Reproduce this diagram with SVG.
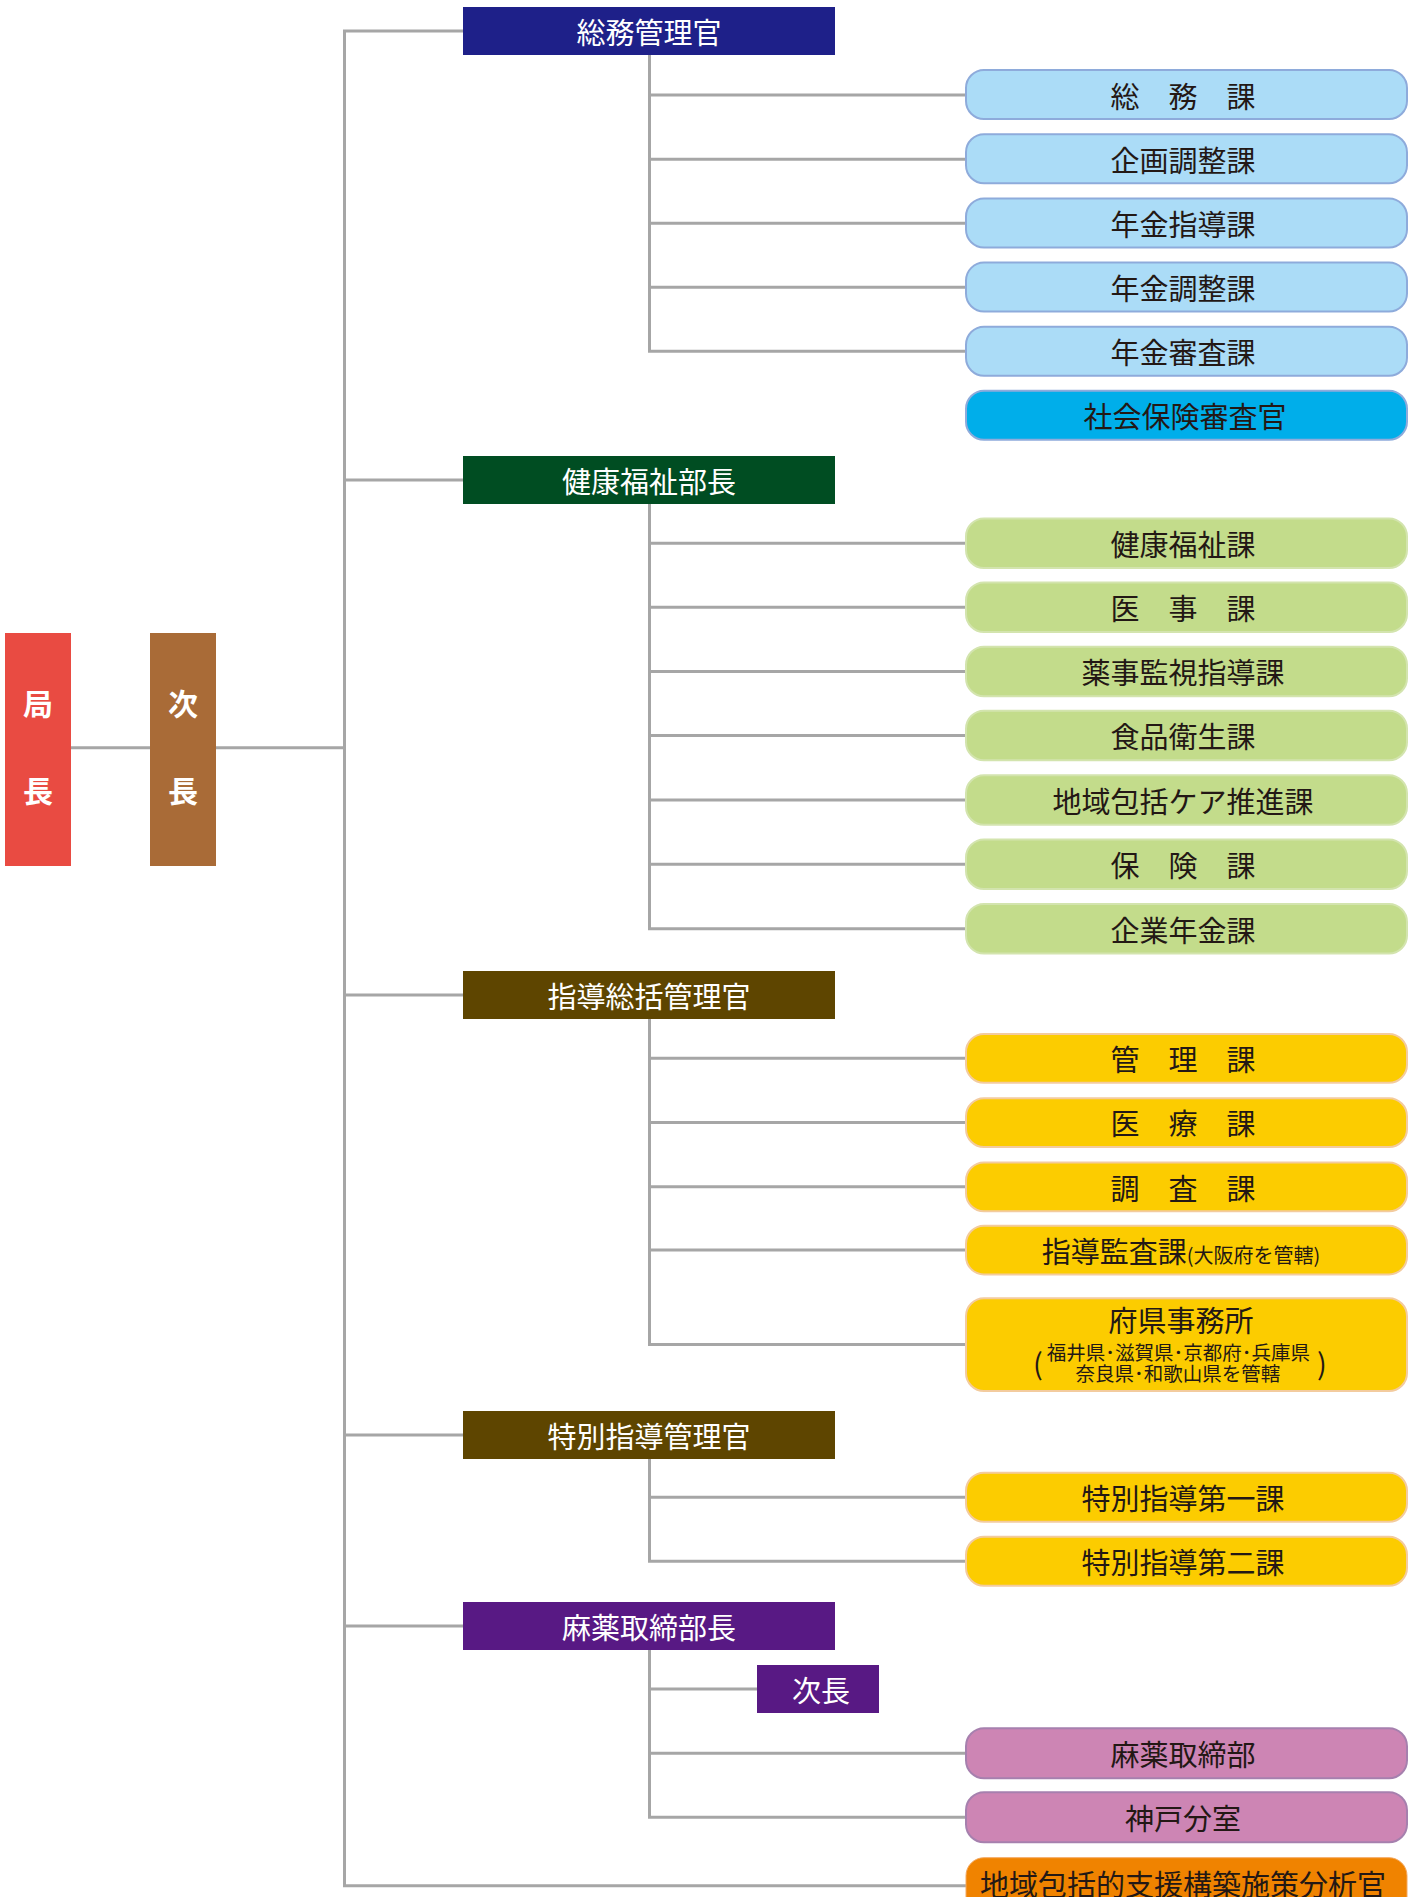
<svg xmlns="http://www.w3.org/2000/svg" width="1417" height="1897" viewBox="0 0 1417 1897">
<style>
.ln{fill:none;stroke:#A6A6A6;stroke-width:3}
text{font-family:"Noto Sans CJK JP","Noto Sans CJK SC",sans-serif}
.hd{font-size:29px;fill:#FFFFFF;text-anchor:middle}
.tp{font-size:30px;fill:#FFFFFF;text-anchor:middle;font-weight:bold}
.bx{font-size:29px;fill:#231815;text-anchor:middle}
.sm{font-size:19.5px;fill:#231815;text-anchor:middle}
.blue{fill:#ABDCF7;stroke:#8EABDB;stroke-width:2}
.cyan{fill:#00AEEA;stroke:#8EABDB;stroke-width:2}
.green{fill:#C3DC8B;stroke:#D3E4AE;stroke-width:2}
.yel{fill:#FCCC00;stroke:#F3CB9E;stroke-width:2}
.pink{fill:#CD85B4;stroke:#A680AE;stroke-width:2}
.orng{fill:#F08300;stroke:#F3A860;stroke-width:1}
</style>
<g id="connectors">
<path class="ln" d="M71 747.7H150M216 747.7H344.5"/>
<path class="ln" d="M463 31H344.5V1885.7H966"/>
<path class="ln" d="M344.5 480H463M344.5 995H463M344.5 1435H463M344.5 1626H463"/>
<path class="ln" d="M649.5 55V351.3H966M649.5 95H966M649.5 159.2H966M649.5 223.3H966M649.5 287.3H966"/>
<path class="ln" d="M649.5 504V928.7H966M649.5 543.2H966M649.5 607.2H966M649.5 671.4H966M649.5 735.5H966M649.5 799.9H966M649.5 864.2H966"/>
<path class="ln" d="M649.5 1019V1344.5H966M649.5 1058.3H966M649.5 1122.6H966M649.5 1186.8H966M649.5 1250H966"/>
<path class="ln" d="M649.5 1459V1561.2H966M649.5 1497.2H966"/>
<path class="ln" d="M649.5 1650V1817.3H966M649.5 1689H757M649.5 1753.3H966"/>
</g>
<g id="kyokucho"><rect x="5" y="633" width="66" height="233" fill="#E94B42"/><text class="tp" x="38" y="714.5">局</text><text class="tp" x="38" y="801.5">長</text></g>
<g id="jicho"><rect x="150" y="633" width="66" height="233" fill="#A96B37"/><text class="tp" x="183" y="714.5">次</text><text class="tp" x="183" y="801.5">長</text></g>
<g id="somu-kanrikan"><rect x="463" y="7" width="372" height="48" fill="#1E2089"/><text class="hd" x="649" y="43.8">総務管理官</text></g>
<g id="somu-ka"><rect class="blue" x="966" y="70" width="441" height="49" rx="18"/><text class="bx" x="1183" y="107.5">総　務　課</text></g>
<g id="kikaku"><rect class="blue" x="966" y="134.2" width="441" height="49" rx="18"/><text class="bx" x="1183" y="171.7">企画調整課</text></g>
<g id="nenkin-shido"><rect class="blue" x="966" y="198.5" width="441" height="49" rx="18"/><text class="bx" x="1183" y="236">年金指導課</text></g>
<g id="nenkin-chosei"><rect class="blue" x="966" y="262.6" width="441" height="49" rx="18"/><text class="bx" x="1183" y="300.1">年金調整課</text></g>
<g id="nenkin-shinsa"><rect class="blue" x="966" y="326.7" width="441" height="49" rx="18"/><text class="bx" x="1183" y="364.2">年金審査課</text></g>
<g id="shakai-hoken"><rect class="cyan" x="966" y="390.8" width="441" height="49" rx="18"/><text class="bx" x="1185" y="428.3">社会保険審査官</text></g>
<g id="kenko-bucho"><rect x="463" y="456" width="372" height="48" fill="#004D22"/><text class="hd" x="649" y="492.8">健康福祉部長</text></g>
<g id="kenko-ka"><rect class="green" x="966" y="518.5" width="441" height="49.5" rx="18"/><text class="bx" x="1183" y="556">健康福祉課</text></g>
<g id="iji"><rect class="green" x="966" y="582.5" width="441" height="49.5" rx="18"/><text class="bx" x="1183" y="620">医　事　課</text></g>
<g id="yakuji"><rect class="green" x="966" y="646.7" width="441" height="49.5" rx="18"/><text class="bx" x="1183" y="684.2">薬事監視指導課</text></g>
<g id="shokuhin"><rect class="green" x="966" y="710.8" width="441" height="49.5" rx="18"/><text class="bx" x="1183" y="748.3">食品衛生課</text></g>
<g id="chiiki-care"><rect class="green" x="966" y="775.2" width="441" height="49.5" rx="18"/><text class="bx" x="1183" y="812.7">地域包括ケア推進課</text></g>
<g id="hoken"><rect class="green" x="966" y="839.5" width="441" height="49.5" rx="18"/><text class="bx" x="1183" y="877">保　険　課</text></g>
<g id="kigyo-nenkin"><rect class="green" x="966" y="904" width="441" height="49.5" rx="18"/><text class="bx" x="1183" y="941.5">企業年金課</text></g>
<g id="shido-sokatsu"><rect x="463" y="971" width="372" height="48" fill="#5E4500"/><text class="hd" x="649" y="1007.8">指導総括管理官</text></g>
<g id="kanri"><rect class="yel" x="966" y="1034" width="441" height="48.7" rx="18"/><text class="bx" x="1183" y="1071">管　理　課</text></g>
<g id="iryo"><rect class="yel" x="966" y="1098.3" width="441" height="48.7" rx="18"/><text class="bx" x="1183" y="1135.3">医　療　課</text></g>
<g id="chosa"><rect class="yel" x="966" y="1162.5" width="441" height="48.7" rx="18"/><text class="bx" x="1183" y="1199.5">調　査　課</text></g>
<g id="shido-kansa"><rect class="yel" x="966" y="1225.7" width="441" height="48.7" rx="18"/><text class="bx" x="1181" y="1262.5">指導監査課<tspan font-size="20px">(大阪府を管轄)</tspan></text></g>
<g id="fuken-jimusho"><rect class="yel" x="966" y="1298.3" width="441" height="92.7" rx="18"/><text class="bx" x="1181" y="1332">府県事務所</text><text class="sm" x="1178.5" y="1359.5">福井県･滋賀県･京都府･兵庫県</text><text class="sm" x="1178" y="1380.5">奈良県･和歌山県を管轄</text><text class="bx" font-size="41px" x="1038" y="1375">(</text><text class="bx" font-size="41px" x="1322" y="1375">)</text></g>
<g id="tokubetsu-shido"><rect x="463" y="1411" width="372" height="48" fill="#5E4500"/><text class="hd" x="649" y="1447.8">特別指導管理官</text></g>
<g id="tokubetsu-1"><rect class="yel" x="966" y="1472.7" width="441" height="49" rx="18"/><text class="bx" x="1183" y="1510.2">特別指導第一課</text></g>
<g id="tokubetsu-2"><rect class="yel" x="966" y="1536.7" width="441" height="49" rx="18"/><text class="bx" x="1183" y="1574.2">特別指導第二課</text></g>
<g id="mayaku-bucho"><rect x="463" y="1602" width="372" height="48" fill="#581984"/><text class="hd" x="649" y="1638.8">麻薬取締部長</text></g>
<g id="mayaku-jicho"><rect x="757" y="1665" width="122" height="48" fill="#581984"/><text class="hd" x="821" y="1701.8">次長</text></g>
<g id="mayaku-bu"><rect class="pink" x="966" y="1728.3" width="441" height="50" rx="18"/><text class="bx" x="1183" y="1766.3">麻薬取締部</text></g>
<g id="kobe"><rect class="pink" x="966" y="1792.3" width="441" height="50" rx="18"/><text class="bx" x="1183" y="1830.3">神戸分室</text></g>
<g id="chiiki-bunseki"><rect class="orng" x="966" y="1857.7" width="441" height="80" rx="18"/><text class="bx" x="1183" y="1896">地域包括的支援構築施策分析官</text></g>
</svg>
